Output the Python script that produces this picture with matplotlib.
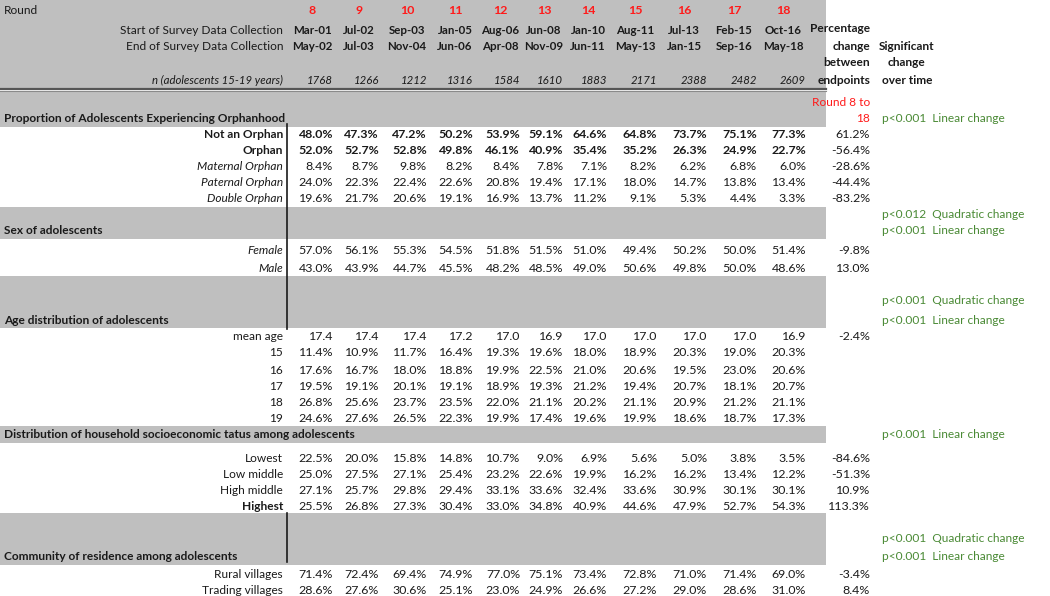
import matplotlib
matplotlib.use("Agg")
import matplotlib.pyplot as plt
from matplotlib.patches import Rectangle

plt.rcParams['font.family'] = ['Lato', 'DejaVu Sans']

rounds = [8, 9, 10, 11, 12, 13, 14, 15, 16, 17, 18]
start_dates = ['Mar-01', 'Jul-02', 'Sep-03', 'Jan-05', 'Aug-06', 'Jun-08',
               'Jan-10', 'Aug-11', 'Jul-13', 'Feb-15', 'Oct-16']
end_dates = ['May-02', 'Jul-03', 'Nov-04', 'Jun-06', 'Apr-08', 'Nov-09',
             'Jun-11', 'May-13', 'Jan-15', 'Sep-16', 'May-18']
n_adolescents = [1768, 1266, 1212, 1316, 1584, 1610, 1883, 2171, 2388, 2482, 2609]

not_orphan = [48.0, 47.3, 47.2, 50.2, 53.9, 59.1, 64.6, 64.8, 73.7, 75.1, 77.3]
orphan = [52.0, 52.7, 52.8, 49.8, 46.1, 40.9, 35.4, 35.2, 26.3, 24.9, 22.7]
maternal_orphan = [8.4, 8.7, 9.8, 8.2, 8.4, 7.8, 7.1, 8.2, 6.2, 6.8, 6.0]
paternal_orphan = [24.0, 22.3, 22.4, 22.6, 20.8, 19.4, 17.1, 18.0, 14.7, 13.8, 13.4]
double_orphan = [19.6, 21.7, 20.6, 19.1, 16.9, 13.7, 11.2, 9.1, 5.3, 4.4, 3.3]
female = [57.0, 56.1, 55.3, 54.5, 51.8, 51.5, 51.0, 49.4, 50.2, 50.0, 51.4]
male = [43.0, 43.9, 44.7, 45.5, 48.2, 48.5, 49.0, 50.6, 49.8, 50.0, 48.6]
mean_age = [17.4, 17.4, 17.4, 17.2, 17.0, 16.9, 17.0, 17.0, 17.0, 17.0, 16.9]
age_15 = [11.4, 10.9, 11.7, 16.4, 19.3, 19.6, 18.0, 18.9, 20.3, 19.0, 20.3]
age_16 = [17.6, 16.7, 18.0, 18.8, 19.9, 22.5, 21.0, 20.6, 19.5, 23.0, 20.6]
age_17 = [19.5, 19.1, 20.1, 19.1, 18.9, 19.3, 21.2, 19.4, 20.7, 18.1, 20.7]
age_18 = [26.8, 25.6, 23.7, 23.5, 22.0, 21.1, 20.2, 21.1, 20.9, 21.2, 21.1]
age_19 = [24.6, 27.6, 26.5, 22.3, 19.9, 17.4, 19.6, 19.9, 18.6, 18.7, 17.3]
ses_lowest = [22.5, 20.0, 15.8, 14.8, 10.7, 9.0, 6.9, 5.6, 5.0, 3.8, 3.5]
ses_low_middle = [25.0, 27.5, 27.1, 25.4, 23.2, 22.6, 19.9, 16.2, 16.2, 13.4, 12.2]
ses_high_middle = [27.1, 25.7, 29.8, 29.4, 33.1, 33.6, 32.4, 33.6, 30.9, 30.1, 30.1]
ses_highest = [25.5, 26.8, 27.3, 30.4, 33.0, 34.8, 40.9, 44.6, 47.9, 52.7, 54.3]
rural_villages = [71.4, 72.4, 69.4, 74.9, 77.0, 75.1, 73.4, 72.8, 71.0, 71.4, 69.0]
trading_villages = [28.6, 27.6, 30.6, 25.1, 23.0, 24.9, 26.6, 27.2, 29.0, 28.6, 31.0]

pct_change = {'Not an Orphan': 61.2, 'Orphan': -56.4, 'Maternal Orphan': -28.6,
              'Paternal Orphan': -44.4, 'Double Orphan': -83.2, 'Female': -9.8,
              'Male': 13.0, 'mean age': -2.4, 'Lowest': -84.6, 'Low middle': -51.3,
              'High middle': 10.9, 'Highest': 113.3, 'Rural villages': -3.4,
              'Trading villages': 8.4}

# ---- layout ----
GRAY = '#bfbfbf'
RED = '#ff1a1a'
GREEN = '#4a8a35'
INK = '#1a1a1a'
FS = 8.6      # labels
FS_NUM = 8.9  # numbers
FS_DATE = 8.3

col_right = [333, 379, 427, 473, 520, 563, 607, 657, 707, 757, 806]
col_center = [312, 359, 407, 455, 500, 544, 588, 635, 684, 734, 783]
label_right = 283
pct_right = 870
sig_left = 882

fig = plt.figure(figsize=(10.5, 5.96), dpi=100)
ax = fig.add_axes([0, 0, 1, 1])
ax.set_xlim(0, 1050)
ax.set_ylim(596, 0)
ax.axis('off')

# gray bands
for y0, y1 in [(0, 89), (91, 127), (207, 239), (276, 328), (426, 443), (513, 565)]:
    ax.add_patch(Rectangle((0, y0), 826, y1 - y0, facecolor=GRAY, edgecolor='none'))
ax.plot([0, 826], [88.5, 88.5], color='#555555', lw=1.6)
ax.plot([0, 826], [90.5, 90.5], color='#8a8a8a', lw=0.8)
ax.plot([287, 287], [124, 329], color=INK, lw=1.2)
ax.plot([287, 287], [513, 562], color=INK, lw=1.2)

# header
ax.text(4, 10, 'Round', fontsize=FS, color=INK, va='center')
ax.text(label_right, 30, 'Start of Survey Data Collection', fontsize=FS, color=INK, ha='right', va='center')
ax.text(label_right, 47, 'End of Survey Data Collection', fontsize=FS, color=INK, ha='right', va='center')
ax.text(label_right, 80, 'n (adolescents 15-19 years)', fontsize=FS - 0.4, color=INK,
        ha='right', va='center', style='italic')
for i in range(len(rounds)):
    ax.text(col_center[i], 10, str(rounds[i]), fontsize=FS_NUM, color=RED, ha='center', va='center', weight='bold')
    ax.text(col_center[i], 30, start_dates[i], fontsize=FS_DATE, color=INK, ha='center', va='center', weight='bold')
    ax.text(col_center[i], 47, end_dates[i], fontsize=FS_DATE, color=INK, ha='center', va='center', weight='bold')
    ax.text(col_right[i], 80, str(n_adolescents[i]), fontsize=FS - 0.4, color=INK,
            ha='right', va='center', style='italic')
for y, s in zip([29, 47, 63, 80], ['Percentage', 'change', 'between', 'endpoints']):
    ax.text(pct_right, y, s, fontsize=FS, color=INK, ha='right', va='center', weight='bold')
for y, s in zip([47, 63, 80], ['Significant', 'change', 'over time']):
    ax.text(907, y, s, fontsize=FS, color=INK, ha='center', va='center', weight='bold')
ax.text(pct_right, 102, 'Round 8 to', fontsize=FS, color=RED, ha='right', va='center')
ax.text(pct_right, 118, '18', fontsize=FS, color=RED, ha='right', va='center')

# section titles and significance notes
sections = [
    (118, 'Proportion of Adolescents Experiencing Orphanhood'),
    (231, 'Sex of adolescents'),
    (320, 'Age distribution of adolescents'),
    (435, 'Distribution of household socioeconomic tatus among adolescents'),
    (557, 'Community of residence among adolescents'),
]
for y, s in sections:
    ax.text(4, y, s, fontsize=FS, color=INK, va='center', weight='bold')

notes = [(118, 'p<0.001  Linear change'), (214, 'p<0.012  Quadratic change'),
         (231, 'p<0.001  Linear change'), (301, 'p<0.001  Quadratic change'),
         (320, 'p<0.001  Linear change'), (435, 'p<0.001  Linear change'),
         (539, 'p<0.001  Quadratic change'), (557, 'p<0.001  Linear change')]
for y, s in notes:
    ax.text(sig_left, y, s, fontsize=FS, color=GREEN, va='center')

# body rows: (y, label, values, label style, value weight, is_percent)
rows = [
    (135, 'Not an Orphan', not_orphan, ('normal', 'bold'), 'bold', True),
    (151, 'Orphan', orphan, ('normal', 'bold'), 'bold', True),
    (167, 'Maternal Orphan', maternal_orphan, ('italic', 'normal'), 'normal', True),
    (183, 'Paternal Orphan', paternal_orphan, ('italic', 'normal'), 'normal', True),
    (199, 'Double Orphan', double_orphan, ('italic', 'normal'), 'normal', True),
    (251, 'Female', female, ('italic', 'normal'), 'normal', True),
    (269, 'Male', male, ('italic', 'normal'), 'normal', True),
    (337, 'mean age', mean_age, ('normal', 'normal'), 'normal', False),
    (353, '15', age_15, ('normal', 'normal'), 'normal', True),
    (370, '16', age_16, ('normal', 'normal'), 'normal', True),
    (386, '17', age_17, ('normal', 'normal'), 'normal', True),
    (402, '18', age_18, ('normal', 'normal'), 'normal', True),
    (418, '19', age_19, ('normal', 'normal'), 'normal', True),
    (458, 'Lowest', ses_lowest, ('normal', 'normal'), 'normal', True),
    (474, 'Low middle', ses_low_middle, ('normal', 'normal'), 'normal', True),
    (490, 'High middle', ses_high_middle, ('normal', 'normal'), 'normal', True),
    (506, 'Highest', ses_highest, ('normal', 'bold'), 'normal', True),
    (574, 'Rural villages', rural_villages, ('normal', 'normal'), 'normal', True),
    (590, 'Trading villages', trading_villages, ('normal', 'normal'), 'normal', True),
]
for y, label, vals, (lstyle, lweight), vweight, is_pct in rows:
    ax.text(label_right, y, label, fontsize=FS, color=INK, ha='right', va='center',
            style=lstyle, weight=lweight)
    for i, v in enumerate(vals):
        s = f'{v:.1f}%' if is_pct else f'{v:.1f}'
        ax.text(col_right[i], y, s, fontsize=FS_NUM, color=INK, ha='right', va='center', weight=vweight)
    if label in pct_change:
        ax.text(pct_right, y, f'{pct_change[label]:.1f}%', fontsize=FS_NUM, color=INK, ha='right', va='center')

fig.savefig('out.png', dpi=100, facecolor='white')
